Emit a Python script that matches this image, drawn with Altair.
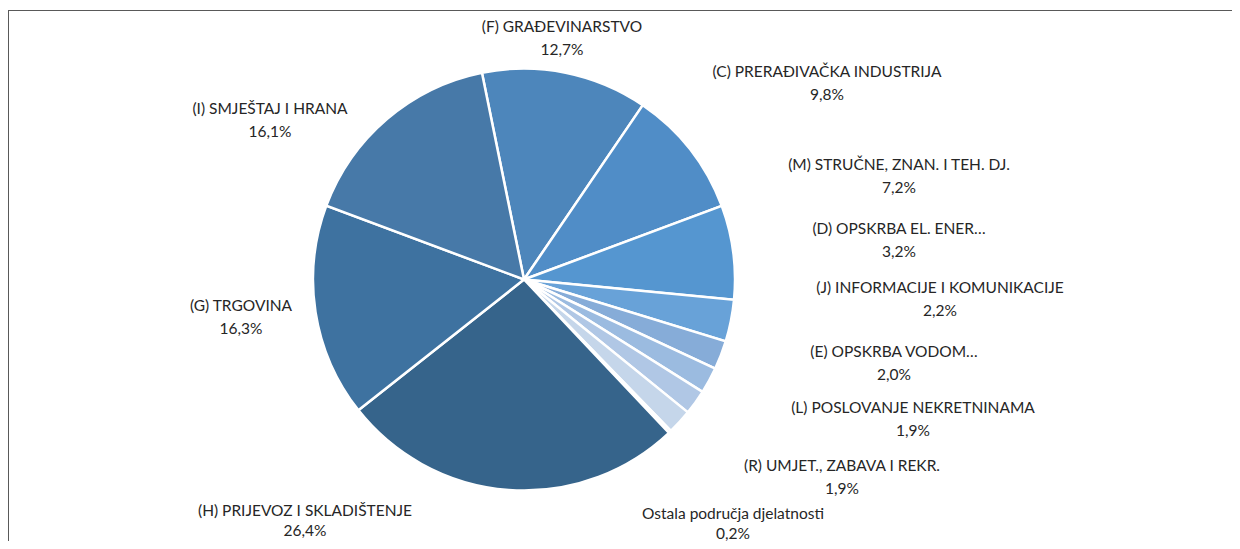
import math
import altair as alt
import pandas as pd

# ---- data ----
categories = [
    "(F) GRAĐEVINARSTVO",
    "(C) PRERAĐIVAČKA INDUSTRIJA",
    "(M) STRUČNE, ZNAN. I TEH. DJ.",
    "(D) OPSKRBA EL. ENER…",
    "(J) INFORMACIJE I KOMUNIKACIJE",
    "(E) OPSKRBA VODOM…",
    "(L) POSLOVANJE NEKRETNINAMA",
    "(R) UMJET., ZABAVA I REKR.",
    "Ostala područja djelatnosti",
    "(H) PRIJEVOZ I SKLADIŠTENJE",
    "(G) TRGOVINA",
    "(I) SMJEŠTAJ I HRANA",
]
shares = [12.7, 9.8, 7.2, 3.2, 2.2, 2.0, 1.9, 1.9, 0.2, 26.4, 16.3, 16.1]
pct_labels = ["12,7%", "9,8%", "7,2%", "3,2%", "2,2%", "2,0%", "1,9%", "1,9%",
              "0,2%", "26,4%", "16,3%", "16,1%"]

# ---- styles / layout ----
colors = ["#4d86bb", "#508dc7", "#5596d0", "#68a2d8", "#86acd8", "#9bbbe0",
          "#b0c7e5", "#c5d6ea", "#d9e4f2", "#36648b", "#3e72a0", "#4779a8"]
# label anchor positions (plot coordinates: centre x, first-line y)
label_x = [554, 819, 891, 891, 932, 886, 905, 834, 725, 297, 233, 262]
label_y = [19, 64, 157, 221, 280, 344, 400, 458, 506, 503, 298, 101]
line_gap = [23, 23, 23, 23, 23, 23, 23, 23, 20, 20, 23, 23]

W, H = 1224, 533
CX, CY, R = 516, 271.5, 211
start = math.radians(-11.5)

df = pd.DataFrame({
    "idx": list(range(len(categories))),
    "cat": categories,
    "share": shares,
    "pct": pct_labels,
    "lx": label_x,
    "ly": label_y,
    "gap": line_gap,
})
df["ly2"] = df["ly"] + df["gap"]

pie = alt.Chart(df).mark_arc(outerRadius=R, stroke="white", strokeWidth=2.5).encode(
    theta=alt.Theta("share:Q", stack=True,
                    scale=alt.Scale(range=[start, start + 2 * math.pi])),
    order=alt.Order("idx:Q"),
    color=alt.Color("cat:N", scale=alt.Scale(domain=categories, range=colors), legend=None),
    x=alt.value(CX),
    y=alt.value(CY),
)

font = "Lato"
txt_style = dict(font=font, fontSize=15.5, color="#262626", align="center", baseline="middle")
name_txt = alt.Chart(df).mark_text(**txt_style).encode(
    x=alt.X("lx:Q", scale=None), y=alt.Y("ly:Q", scale=None), text="cat:N")
pct_txt = alt.Chart(df).mark_text(**txt_style).encode(
    x=alt.X("lx:Q", scale=None), y=alt.Y("ly2:Q", scale=None), text="pct:N")

one = pd.DataFrame({"a": [0]})
frame_top = alt.Chart(one).mark_rule(stroke="#595959", strokeWidth=1).encode(
    x=alt.value(0), x2=alt.value(W + 40), y=alt.value(2.5))
frame_left = alt.Chart(one).mark_rule(stroke="#595959", strokeWidth=1).encode(
    x=alt.value(0.5), y=alt.value(2), y2=alt.value(H + 40))
mask_right = alt.Chart(one).mark_rule(stroke="white", strokeWidth=3).encode(
    x=alt.value(W - 1), y=alt.value(3.5), y2=alt.value(H + 40))

chart = alt.layer(frame_top, frame_left, mask_right, pie, name_txt, pct_txt).properties(
    width=W, height=H, padding=0,
    autosize=alt.AutoSizeParams(type="none"),
).configure_view(stroke=None)

chart.save("out.html", embed_options={"renderer": "svg", "actions": False})
